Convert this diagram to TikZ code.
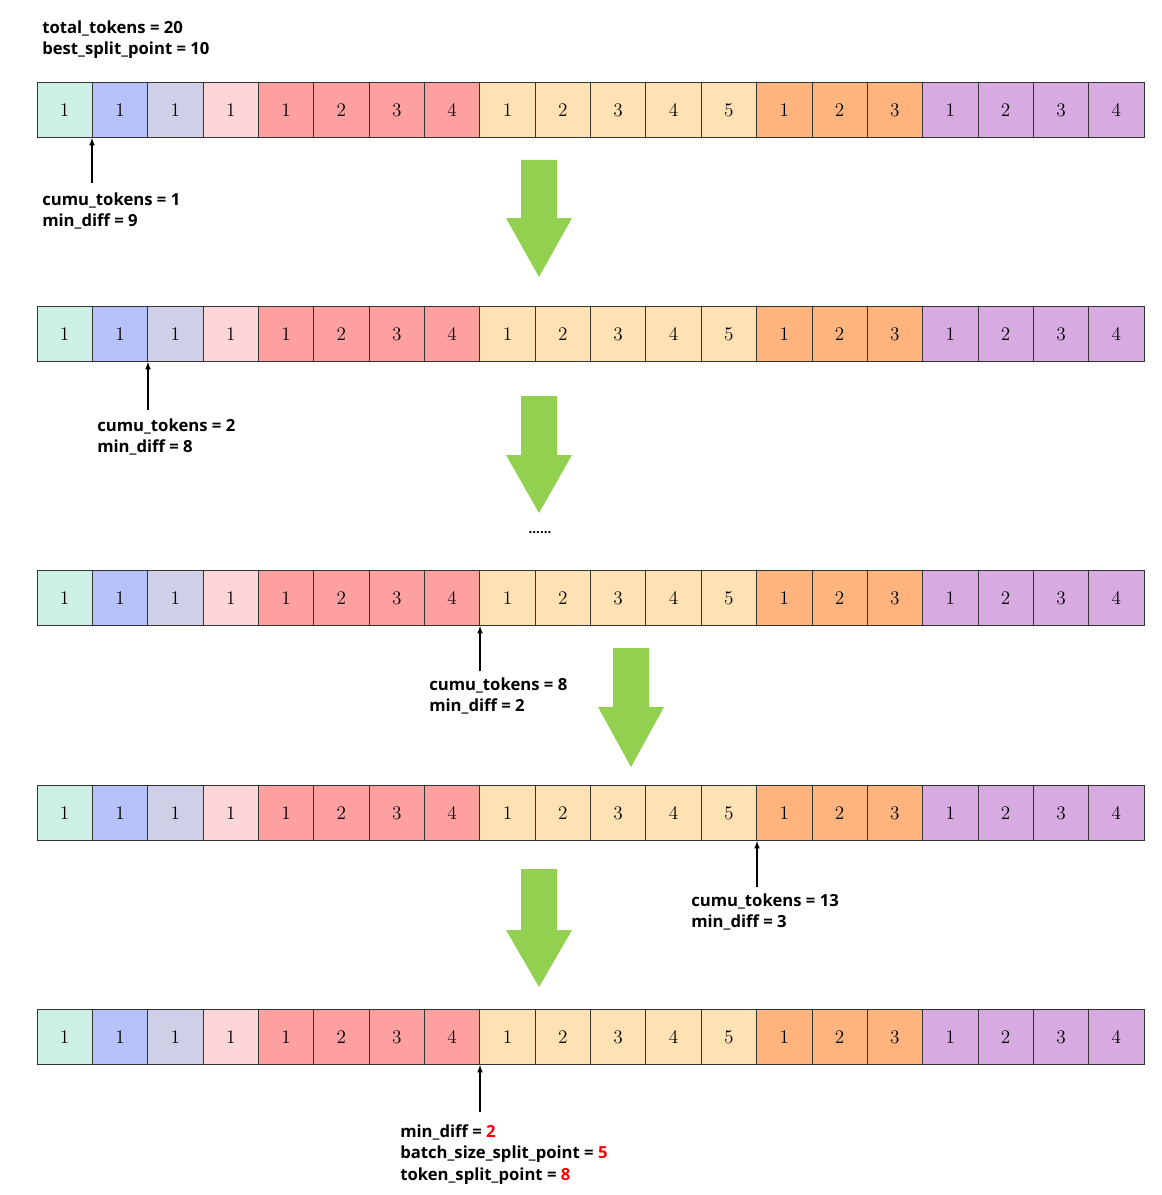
\documentclass[tikz,border=0pt]{standalone}
\usepackage{fontspec}
\setmainfont{Open Sans}
\begin{document}
\begin{tikzpicture}[x=0.75pt,y=-0.75pt,
 cell/.style={draw=black!80,line width=0.6pt,minimum width=41.5pt,minimum height=41.2pt,inner sep=0,font=\fontsize{15}{15}\selectfont},
 lbl/.style={anchor=west,font=\bfseries\fontsize{12.5}{15}\selectfont,inner sep=0},
 ptr/.style={-latex,line width=0.9pt},
 big/.style={fill=green1,draw=none}]
\definecolor{green1}{HTML}{92D050}
\definecolor{c1}{HTML}{CCF0E6}\definecolor{c2}{HTML}{B8C2FA}\definecolor{c3}{HTML}{CFCFE8}
\definecolor{c4}{HTML}{FFD6D8}\definecolor{c5}{HTML}{FFA0A0}\definecolor{c6}{HTML}{FFE2B4}
\definecolor{c7}{HTML}{FFB47E}\definecolor{c8}{HTML}{D8AAE2}
\useasboundingbox (0,0) rectangle (1162,1195);
\def\cols{c1,c2,c3,c4,c5,c5,c5,c5,c6,c6,c6,c6,c6,c7,c7,c7,c8,c8,c8,c8}
\def\nums{1,1,1,1,1,2,3,4,1,2,3,4,5,1,2,3,1,2,3,4}
\foreach \r/\y in {1/110,2/334,3/598,4/813,5/1037}{
 \foreach \c [count=\i] in \cols {
  \pgfmathsetmacro\xx{37+55.35*(\i-0.5)}
  \pgfmathparse{{\nums}[\i-1]}\let\nn\pgfmathresult
  \node[cell,fill=\c] (r\r c\i) at (\xx,\y) {\pgfmathprintnumber{\nn}};
 }}
\node[lbl] (t1) at (42,28) {total\_tokens = 20};
\node[lbl] (t2) at (42,50) {best\_split\_point = 10};
% big arrows
\foreach \cx/\ya/\yb/\tip in {539/160/218/277,539/396/455/513,631/648/707/767,539/869/930/987}
 \fill[green1] (\cx-18,\ya) -- (\cx+18,\ya) -- (\cx+18,\yb) -- (\cx+33,\yb) -- (\cx,\tip) -- (\cx-33,\yb) -- (\cx-18,\yb) -- cycle;
\node[font=\bfseries\fontsize{10}{10}\selectfont] (dots) at (540,533) {......};
% pointers
\coordinate (p1) at (92,183); \draw[ptr] (p1) -- (92,138);
\node[lbl] (a1) at (42,200) {cumu\_tokens = 1};\node[lbl] (b1) at (42,221) {min\_diff = 9};
\coordinate (p2) at (148,410); \draw[ptr] (p2) -- (148,362);
\node[lbl] (a2) at (97,426) {cumu\_tokens = 2};\node[lbl] (b2) at (97,447) {min\_diff = 8};
\coordinate (p3) at (480,671); \draw[ptr] (p3) -- (480,626);
\node[lbl] (a3) at (429,685) {cumu\_tokens = 8};\node[lbl] (b3) at (429,706) {min\_diff = 2};
\coordinate (p4) at (757,887); \draw[ptr] (p4) -- (757,841);
\node[lbl] (a4) at (691,901) {cumu\_tokens = 13};\node[lbl] (b4) at (691,922) {min\_diff = 3};
\coordinate (p5) at (480,1112); \draw[ptr] (p5) -- (480,1065);
\node[lbl] (a5) at (400,1132) {min\_diff = \textcolor{red}{2}};
\node[lbl] (b5) at (400,1154) {batch\_size\_split\_point = \textcolor{red}{5}};
\node[lbl] (c5) at (400,1176) {token\_split\_point = \textcolor{red}{8}};
\end{tikzpicture}
\end{document}
